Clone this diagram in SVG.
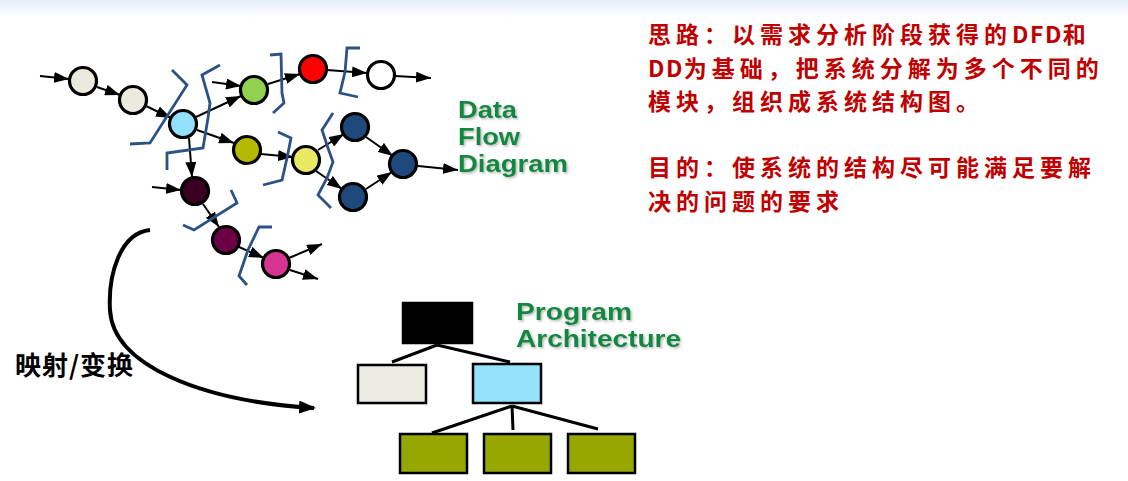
<svg xmlns="http://www.w3.org/2000/svg" width="1128" height="481" viewBox="0 0 1128 481">
  <defs>
    <marker id="ah" markerUnits="userSpaceOnUse" markerWidth="15" markerHeight="11" refX="15" refY="5.5" orient="auto">
      <path d="M0,0 L15,5.5 L0,11 z" fill="#000"/>
    </marker>
    <marker id="big" markerUnits="userSpaceOnUse" markerWidth="17" markerHeight="13" refX="15" refY="6.5" orient="auto">
      <path d="M0,0 L17,6.5 L0,13 z" fill="#000"/>
    </marker>
    <linearGradient id="topg" x1="0" y1="0" x2="0" y2="1">
      <stop offset="0" stop-color="#e4eef8"/>
      <stop offset="1" stop-color="#ffffff"/>
    </linearGradient>
    <filter id="sh" x="-10%" y="-10%" width="130%" height="140%">
      <feDropShadow dx="1.5" dy="1.5" stdDeviation="0.8" flood-color="#999" flood-opacity="0.7"/>
    </filter>
    <style>
      .c { stroke:#000; stroke-width:3.2; }
      .a { stroke:#000; stroke-width:2; fill:none; marker-end:url(#ah); }
      .b { stroke:#2b5285; stroke-width:2.8; fill:none; stroke-linejoin:miter; }
      .t { stroke:#000; stroke-width:3; fill:none; }
      .r { stroke:#000; stroke-width:2.5; }
      .g { font-family:"Liberation Sans", Arial, sans-serif; font-weight:bold; font-size:24px; fill:#0f8a40; filter:url(#sh); }
      .cn { font-family:"Noto Sans CJK SC", sans-serif; font-weight:bold; font-size:23px; fill:#c00000; letter-spacing:5px; }
      .lat { letter-spacing:1.5px; }
      .lbl { font-family:"Noto Sans CJK SC", sans-serif; font-weight:bold; font-size:26px; fill:#000; letter-spacing:1px; }
    </style>
  </defs>
  <rect x="0" y="0" width="1128" height="18" fill="url(#topg)"/>

  <g id="connectors">
    <line class="a" x1="40" y1="76" x2="69" y2="79"/>
    <line class="a" x1="97" y1="87" x2="120" y2="95"/>
    <line class="a" x1="146" y1="106" x2="171" y2="118"/>
    <line class="a" x1="212" y1="82" x2="241" y2="86"/>
    <line class="a" x1="196" y1="117" x2="241" y2="96"/>
    <line class="a" x1="197" y1="130" x2="234" y2="143"/>
    <line class="a" x1="189" y1="138" x2="192" y2="177"/>
    <line class="a" x1="268" y1="84" x2="300" y2="74"/>
    <line class="a" x1="327" y1="70" x2="367" y2="73"/>
    <line class="a" x1="395" y1="76" x2="431" y2="78"/>
    <line class="a" x1="261" y1="154" x2="293" y2="157"/>
    <line class="a" x1="318" y1="150" x2="344" y2="134"/>
    <line class="a" x1="316" y1="171" x2="342" y2="189"/>
    <line class="a" x1="366" y1="137" x2="393" y2="156"/>
    <line class="a" x1="366" y1="189" x2="392" y2="172"/>
    <line class="a" x1="418" y1="166" x2="458" y2="170"/>
    <line class="a" x1="152" y1="187" x2="181" y2="190"/>
    <line class="a" x1="203" y1="204" x2="219" y2="227"/>
    <line class="a" x1="239" y1="247" x2="264" y2="258"/>
    <line class="a" x1="289" y1="258" x2="322" y2="244"/>
    <line class="a" x1="290" y1="270" x2="318" y2="279"/>
    <path d="M150,230 C120,233 108,275 110,310 C113,365 200,401 314,408" stroke="#000" stroke-width="4" fill="none" marker-end="url(#big)"/>
    <line class="t" x1="437" y1="345" x2="392" y2="362"/>
    <line class="t" x1="437" y1="345" x2="510" y2="362"/>
    <line class="t" x1="512" y1="406" x2="432" y2="433"/>
    <line class="t" x1="512" y1="406" x2="513" y2="430"/>
    <line class="t" x1="512" y1="406" x2="598" y2="429"/>
  </g>

  <g id="n1"><circle class="c" cx="83" cy="81" r="13.5" fill="#ebeadf"/></g>
  <g id="n2"><circle class="c" cx="133" cy="100" r="13.5" fill="#ebeadf"/></g>
  <g id="n3"><circle class="c" cx="183" cy="124" r="13.5" fill="#92e0fa"/></g>
  <g id="n4"><circle class="c" cx="254" cy="90" r="13.5" fill="#92d050"/></g>
  <g id="n5"><circle class="c" cx="313" cy="69" r="13.5" fill="#ff0000"/></g>
  <g id="n6"><circle class="c" cx="381" cy="75" r="13.5" fill="#ffffff"/></g>
  <g id="n7"><circle class="c" cx="247" cy="150" r="13.5" fill="#b3b800"/></g>
  <g id="n8"><circle class="c" cx="306" cy="160" r="13.5" fill="#e8e862"/></g>
  <g id="n9"><circle class="c" cx="355" cy="127" r="13.5" fill="#1f497d"/></g>
  <g id="n10"><circle class="c" cx="403" cy="164" r="13.5" fill="#1f497d"/></g>
  <g id="n11"><circle class="c" cx="353" cy="197" r="13.5" fill="#1f497d"/></g>
  <g id="n12"><circle class="c" cx="195" cy="191" r="13.5" fill="#3a0022"/></g>
  <g id="n13"><circle class="c" cx="226" cy="240" r="13.5" fill="#6b0045"/></g>
  <g id="n14"><circle class="c" cx="276" cy="264" r="13.5" fill="#d63490"/></g>

  <g id="brackets">
    <polyline class="b" points="172,70 187,85 150,143 130,144"/>
    <polyline class="b" points="220,65 202,75 210,103 208,118 203,148 167,153 167,170"/>
    <polyline class="b" points="270,55 281,54 282,93 284,103 273,113"/>
    <polyline class="b" points="360,48 347,48 345,72 340,93 358,97"/>
    <polyline class="b" points="278,132 291,138 287,158 282,180 263,185"/>
    <polyline class="b" points="333,113 322,130 328,148 333,162 327,178 318,195 331,208"/>
    <polyline class="b" points="231,190 237,203 194,230 183,225"/>
    <polyline class="b" points="272,227 259,227 248,250 239,276 247,285"/>
  </g>

  <g id="dfd-label">
    <text class="g" x="458" y="118" textLength="59" lengthAdjust="spacingAndGlyphs">Data</text>
    <text class="g" x="458" y="145" textLength="62" lengthAdjust="spacingAndGlyphs">Flow</text>
    <text class="g" x="458" y="172" textLength="110" lengthAdjust="spacingAndGlyphs">Diagram</text>
  </g>

  <g id="p-root"><rect class="r" x="403" y="303" width="69" height="40" fill="#000"/></g>
  <g id="p-left"><rect class="r" x="358" y="365" width="68" height="38" fill="#ecebe2"/></g>
  <g id="p-right"><rect class="r" x="473" y="364" width="68" height="39" fill="#94e2fb"/></g>
  <g id="p-c1"><rect class="r" x="400" y="434" width="67" height="39" fill="#96a800"/></g>
  <g id="p-c2"><rect class="r" x="484" y="434" width="67" height="39" fill="#96a800"/></g>
  <g id="p-c3"><rect class="r" x="568" y="434" width="67" height="39" fill="#96a800"/></g>

  <g id="pa-label">
    <text class="g" x="516" y="320" textLength="116" lengthAdjust="spacingAndGlyphs">Program</text>
    <text class="g" x="516" y="347" textLength="165" lengthAdjust="spacingAndGlyphs">Architecture</text>
  </g>

  <text class="lbl" x="15" y="375">映射/变换</text>

  <g id="notes">
    <text class="cn" x="648" y="43">思路：以需求分析阶段获得的<tspan class="lat">DFD</tspan>和</text>
    <text class="cn" x="648" y="76.5"><tspan class="lat">DD</tspan>为基础，把系统分解为多个不同的</text>
    <text class="cn" x="648" y="110">模块，组织成系统结构图。</text>
    <text class="cn" x="648" y="176">目的：使系统的结构尽可能满足要解</text>
    <text class="cn" x="648" y="209.5">决的问题的要求</text>
  </g>
</svg>
